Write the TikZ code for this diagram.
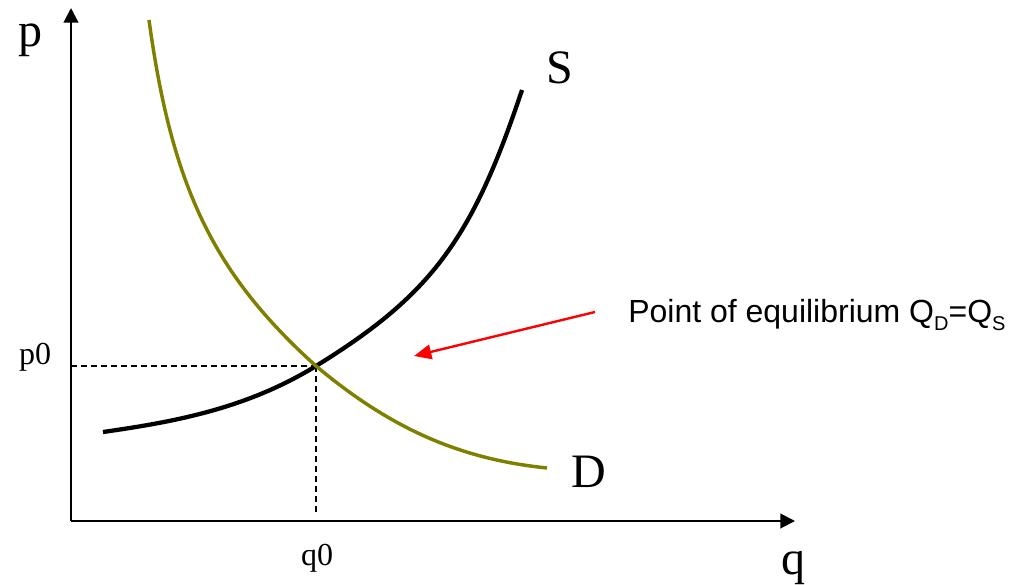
\documentclass[tikz,border=0pt]{standalone}
\usepackage{fontspec}
\usepackage{tikz}
\usetikzlibrary{arrows.meta, positioning}
\setmainfont{Liberation Serif}
\newfontfamily\notefont{Liberation Sans}
\definecolor{demandcol}{RGB}{128,128,0}
\tikzstyle{axis} = [line width=1.5pt, -{Triangle[length=11pt, width=11pt]}]
\tikzstyle{guide} = [line width=1pt, dash pattern=on 4.5pt off 3pt]
\tikzstyle{supply} = [line width=3.2pt, black]
\tikzstyle{demand} = [line width=2.6pt, demandcol]
\tikzstyle{biglabel} = [inner sep=0pt, anchor=base, font=\fontsize{36}{40}\selectfont]
\tikzstyle{ticklabel} = [inner sep=0pt, anchor=base, font=\fontsize{24}{28}\selectfont]
\tikzstyle{pointer} = [line width=1.8pt, red, -{Triangle[length=13pt, width=11pt]}]

\begin{document}
\begin{tikzpicture}[x=0.75pt, y=-0.75pt]
\useasboundingbox (0,0) rectangle (1010,585);

% Axes
\coordinate (origin) at (71,521);
\coordinate (ytop) at (71,8);
\coordinate (xend) at (795,521);
\draw [axis] (origin) -- (ytop);
\draw [axis] (origin) -- (xend);

% Equilibrium point and guides
\coordinate (eq) at (316,366);
\draw [guide] (origin |- eq) -- (eq);
\draw [guide] (eq) -- ([yshift=4.5pt]eq |- origin);

% Curves
\draw [supply] (103,432) .. controls (173,422) and (246,409) .. (eq)
  .. controls (431,295) and (472,240) .. (522,90);
\draw [demand] (149,20) .. controls (172,188) and (214,274) .. (eq)
  .. controls (390,428) and (459,459) .. (547,468);

% Labels
\node (plabel) [biglabel] at (30,47) {p};
\node (qlabel) [biglabel] at (793,574) {q};
\node (slabel) [biglabel] at (560,84) {S};
\node (dlabel) [biglabel] at (589,487) {D};
\node (p0label) [ticklabel] at (35,364) {p0};
\node (q0label) [ticklabel] at (317,565) {q0};

% Annotation
\node (note) [inner sep=0pt, anchor=base west, font=\notefont\fontsize{24}{28}\selectfont] at (628,322)
  {Point of equilibrium Q\raisebox{-0.28em}{\fontsize{15}{15}\selectfont D}=Q\raisebox{-0.28em}{\fontsize{15}{15}\selectfont S}};
\coordinate (tail) at (595,312);
\coordinate (tip) at (414,356);
\draw [pointer] (tail) -- (tip);

\end{tikzpicture}
\end{document}
